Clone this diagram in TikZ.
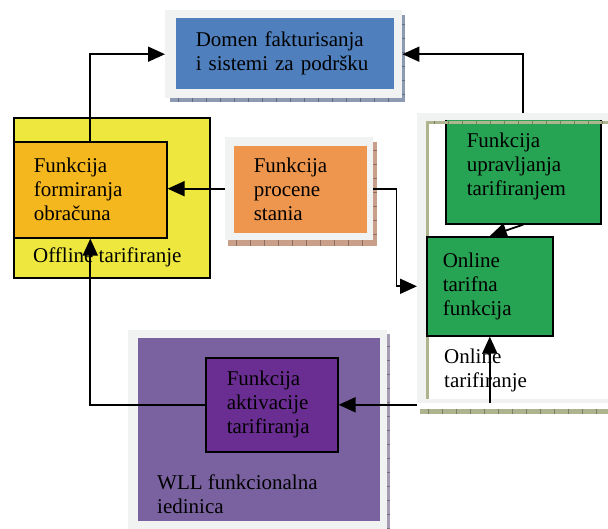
\documentclass[tikz,border=0pt]{standalone}
\usepackage{fontspec}
\setmainfont{Liberation Serif}
\usetikzlibrary{arrows.meta, calc}
\definecolor{frameGray}{HTML}{F1F3F3}
\definecolor{domenBlue}{HTML}{4F7FBC}
\definecolor{domenShadow}{HTML}{8D9BB2}
\definecolor{offYellow}{HTML}{EEE83E}
\definecolor{obrOrange}{HTML}{F5B71E}
\definecolor{procOrange}{HTML}{EF964E}
\definecolor{procShadow}{HTML}{C99F8A}
\definecolor{onlGreen}{HTML}{27A453}
\definecolor{onlShadow}{HTML}{AEB48E}
\definecolor{wllPurple}{HTML}{7A62A0}
\definecolor{wllShadow}{HTML}{A69CB4}
\definecolor{aktPurple}{HTML}{6A2E92}

\begin{document}
\begin{tikzpicture}[
    x=1pt, y=-1pt,
    font=\fontsize{21pt}{24pt}\selectfont,
    blk/.style={draw, line width=1.6pt, fill=#1, anchor=north west,
                inner xsep=0pt, inner ysep=0pt, align=left},
    frm/.style={fill=frameGray, anchor=north west, inner sep=0pt},
    lbl/.style={anchor=west, inner sep=0pt, align=left},
    tick/.style={line width=0.5pt, draw=#1!70!black},
    arr/.style={line width=1.8pt, -{Triangle[length=17pt,width=15pt]}},
  ]
    \useasboundingbox (0,0) rectangle (608,529);

    % Billing domain, top
    \fill[domenShadow] (170,15) rectangle (405,102);
    \foreach \x in {178,192,...,400} \draw[tick=domenShadow] (\x,98) -- (\x,102);
    \foreach \y in {24,38,...,96} \draw[tick=domenShadow] (402,\y) -- (405,\y);
    \node[frm, minimum width=237pt, minimum height=88pt] (domenfr) at (165,10) {};
    \node[blk=domenBlue, draw=none, minimum width=218pt, minimum height=71pt,
          text width=178pt] (domen) at (175,17) {Domen fakturisanja\\i sistemi za podršku};

    % Offline charging
    \node[blk=offYellow, minimum width=196pt, minimum height=160pt] (offline) at (13,117) {};
    \node[blk=obrOrange, minimum width=153pt, minimum height=96pt,
          text width=113pt] (formiranja) at (13,141) {Funkcija\\formiranja\\obračuna};
    \node[lbl] (offlbl) at (33,257) {Offline tarifiranje};

    % State estimation
    \fill[procShadow] (228,142) rectangle (377,246);
    \foreach \x in {236,250,...,372} \draw[tick=procShadow] (\x,240) -- (\x,246);
    \foreach \y in {150,164,...,240} \draw[tick=procShadow] (373,\y) -- (377,\y);
    \node[frm, minimum width=148pt, minimum height=103pt] (procfr) at (225,137) {};
    \node[blk=procOrange, draw=none, minimum width=133pt, minimum height=87pt,
          text width=93pt] (procene) at (233,145) {Funkcija\\procene\\stania};

    % Online charging
    \node[frm, minimum width=200pt, minimum height=290pt] (onlfr) at (417,113) {};
    \fill[white] (426,121) rectangle (620,399);
    \begin{scope}
      \clip (426,121) rectangle (620,399);
      \node[blk=onlGreen, minimum width=155pt, minimum height=115pt,
            text width=113pt] (upravljanja) at (445,108) {Funkcija\\upravljanja\\tarifiranjem};
    \end{scope}
    \fill[onlShadow] (426,121) rectangle (620,124);
    \fill[onlShadow] (426,121) rectangle (429,399);
    \fill[onlShadow] (420,409) rectangle (620,414);
    \foreach \x in {434,448,...,608} \draw[tick=onlShadow] (\x,121) -- (\x,124);
    \foreach \x in {428,442,...,608} \draw[tick=onlShadow] (\x,409) -- (\x,414);
    \node[blk=onlGreen, minimum width=126pt, minimum height=99pt,
          text width=94pt] (tarifna) at (426,236) {Online\\tarifna\\funkcija};
    \node[lbl] (onllbl) at (444,370.5) {Online\\tarifiranje};

    % WLL unit
    \fill[wllShadow] (131,334) rectangle (390,540);
    \foreach \y in {346,360,...,529} \draw[tick=wllShadow] (387,\y) -- (390,\y);
    \node[frm, minimum width=259pt, minimum height=210pt] (wllfr) at (128,330) {};
    \node[blk=wllPurple, draw=none, minimum width=242pt, minimum height=183pt] (wll) at (137,337) {};
    \node[blk=aktPurple, minimum width=132pt, minimum height=94pt,
          text width=90pt] (aktivacije) at (205,357) {Funkcija\\aktivacije\\tarifiranja};
    \node[lbl] (wlllbl) at (157,494) {WLL funkcionalna\\iedinica};

    % connectors
    \draw[arr] (formiranja.north) |- (domenfr.west);
    \draw[arr] (upravljanja.north |- onlfr.north) |- (domenfr.east);
    \draw[arr] (procfr.west) -- (procfr.west -| formiranja.east);
    \draw[arr] (procfr.east) -- ++(23,0) |- (onlfr.west |- tarifna.west);
    \draw[arr] (upravljanja.south) -- (tarifna.north);
    \draw[arr] (tarifna.south |- onlfr.south) -- (tarifna.south);
    \draw[arr] (onlfr.west |- aktivacije.east) -- (aktivacije.east);
    \draw[arr] (aktivacije.west) -| (formiranja.south);
  \end{tikzpicture}
\end{document}
